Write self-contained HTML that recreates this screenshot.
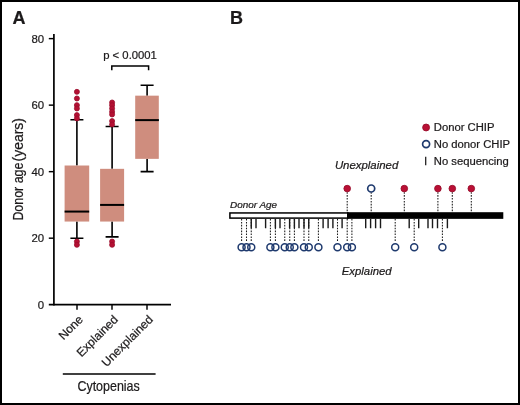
<!DOCTYPE html><html><head><meta charset="utf-8"><title>Figure</title>
<style>html,body{margin:0;padding:0;background:#fff}body{width:520px;height:405px;overflow:hidden}svg{display:block}text{font-family:"Liberation Sans",Arial,Helvetica,sans-serif;fill:#1c1a1b;stroke:#1c1a1b;stroke-width:.22px}</style></head><body>
<svg width="520" height="405" viewBox="0 0 520 405">
<rect x="0" y="0" width="520" height="405" fill="#fff"/>
<rect x="1" y="1" width="518" height="403" fill="none" stroke="#000" stroke-width="2"/>
<text x="12.5" y="23.5" font-size="18" font-weight="bold">A</text>
<text x="230" y="23.5" font-size="18" font-weight="bold">B</text>
<g stroke="#000" stroke-width="1.7" fill="none">
<path d="M53.9 34V305.55"/>
<path d="M48.8 304.70H171"/>
</g><g stroke="#000" stroke-width="1.45" fill="none">
<path d="M48.8 238.18H54"/>
<path d="M48.8 171.66H54"/>
<path d="M48.8 105.14H54"/>
<path d="M48.8 38.62H54"/>
<path d="M77.0 304.70V309.8"/>
<path d="M112.0 304.70V309.8"/>
<path d="M147.0 304.70V309.8"/>
</g>
<text x="44.1" y="308.70" font-size="11.4" text-anchor="end">0</text>
<text x="44.1" y="242.18" font-size="11.4" text-anchor="end">20</text>
<text x="44.1" y="175.66" font-size="11.4" text-anchor="end">40</text>
<text x="44.1" y="109.14" font-size="11.4" text-anchor="end">60</text>
<text x="44.1" y="42.62" font-size="11.4" text-anchor="end">80</text>
<text transform="translate(22.9 220.6) rotate(-90)" font-size="15" stroke="#1c1a1b" stroke-width="0.3"><tspan x="0" textLength="61.4" lengthAdjust="spacingAndGlyphs">Donor age </tspan><tspan x="59.2" textLength="43.4" lengthAdjust="spacingAndGlyphs">(years)</tspan></text>
<g>
<path d="M76.9 119.77V165.51M76.9 221.55V238.18" stroke="#000" stroke-width="1.6"/>
<path d="M70.4 119.77H83.4M70.4 238.18H83.4" stroke="#000" stroke-width="1.6"/>
<rect x="64.6" y="165.51" width="24.6" height="56.04" fill="#CF8D7E"/>
<path d="M64.6 211.57H89.2" stroke="#000" stroke-width="2"/>
<circle cx="76.9" cy="91.84" r="2.5" fill="#B41033" stroke="#9A0D2B" stroke-width="0.8"/>
<circle cx="76.9" cy="98.49" r="2.5" fill="#B41033" stroke="#9A0D2B" stroke-width="0.8"/>
<circle cx="76.9" cy="105.14" r="2.5" fill="#B41033" stroke="#9A0D2B" stroke-width="0.8"/>
<circle cx="76.9" cy="108.47" r="2.5" fill="#B41033" stroke="#9A0D2B" stroke-width="0.8"/>
<circle cx="76.9" cy="115.12" r="2.5" fill="#B41033" stroke="#9A0D2B" stroke-width="0.8"/>
<circle cx="76.9" cy="118.44" r="2.5" fill="#B41033" stroke="#9A0D2B" stroke-width="0.8"/>
<circle cx="76.9" cy="241.51" r="2.5" fill="#B41033" stroke="#9A0D2B" stroke-width="0.8"/>
<circle cx="76.9" cy="244.83" r="2.5" fill="#B41033" stroke="#9A0D2B" stroke-width="0.8"/>
</g>
<g>
<path d="M112.1 126.43V168.83M112.1 221.55V236.85" stroke="#000" stroke-width="1.6"/>
<path d="M105.6 126.43H118.6M105.6 236.85H118.6" stroke="#000" stroke-width="1.6"/>
<rect x="100.1" y="168.83" width="24.0" height="52.72" fill="#CF8D7E"/>
<path d="M100.1 204.92H124.1" stroke="#000" stroke-width="2"/>
<circle cx="112.1" cy="102.48" r="2.5" fill="#B41033" stroke="#9A0D2B" stroke-width="0.8"/>
<circle cx="112.1" cy="105.14" r="2.5" fill="#B41033" stroke="#9A0D2B" stroke-width="0.8"/>
<circle cx="112.1" cy="108.47" r="2.5" fill="#B41033" stroke="#9A0D2B" stroke-width="0.8"/>
<circle cx="112.1" cy="111.79" r="2.5" fill="#B41033" stroke="#9A0D2B" stroke-width="0.8"/>
<circle cx="112.1" cy="114.45" r="2.5" fill="#B41033" stroke="#9A0D2B" stroke-width="0.8"/>
<circle cx="112.1" cy="121.10" r="2.5" fill="#B41033" stroke="#9A0D2B" stroke-width="0.8"/>
<circle cx="112.1" cy="124.43" r="2.5" fill="#B41033" stroke="#9A0D2B" stroke-width="0.8"/>
<circle cx="112.1" cy="241.51" r="2.5" fill="#B41033" stroke="#9A0D2B" stroke-width="0.8"/>
<circle cx="112.1" cy="244.83" r="2.5" fill="#B41033" stroke="#9A0D2B" stroke-width="0.8"/>
</g>
<g>
<path d="M147.1 85.18V95.66M147.1 158.85V171.66" stroke="#000" stroke-width="1.6"/>
<path d="M140.6 85.18H153.6M140.6 171.66H153.6" stroke="#000" stroke-width="1.6"/>
<rect x="135.2" y="95.66" width="23.6" height="63.19" fill="#CF8D7E"/>
<path d="M135.2 120.11H158.9" stroke="#000" stroke-width="2"/>
</g>
<path d="M111.8 70.3V66H148.6V70.3" fill="none" stroke="#000" stroke-width="1.5"/>
<text x="103.2" y="58.8" font-size="11.3">p &lt; 0.0001</text>
<text transform="translate(83.7 320.2) rotate(-45)" font-size="12" text-anchor="end">None</text>
<text transform="translate(118.7 320.2) rotate(-45)" font-size="12" text-anchor="end">Explained</text>
<text transform="translate(153.7 320.2) rotate(-45)" font-size="12" text-anchor="end">Unexplained</text>
<path d="M62.8 373.9H155.6" stroke="#000" stroke-width="1.5"/>
<text x="77.4" y="391.2" font-size="15" textLength="62.4" lengthAdjust="spacingAndGlyphs" stroke="#1c1a1b" stroke-width="0.3">Cytopenias</text>
<circle cx="426.1" cy="127.5" r="3.45" fill="#BA1035" stroke="#980D2B" stroke-width="0.9"/>
<circle cx="426.1" cy="144.1" r="3.5" fill="#fff" stroke="#1F3A6E" stroke-width="1.7"/>
<path d="M425.7 156.8V165.3" stroke="#1c1a1b" stroke-width="1.25"/>
<text x="433.8" y="131.2" font-size="11.25">Donor CHIP</text>
<text x="433.8" y="147.7" font-size="11.25">No donor CHIP</text>
<text x="433.8" y="164.6" font-size="11.25">No sequencing</text>
<text x="334.9" y="169" font-size="11.4" font-style="italic">Unexplained</text>
<text x="341.8" y="274.5" font-size="11.35" font-style="italic">Explained</text>
<text x="230" y="208.1" font-size="9.95" font-style="italic">Donor Age</text>
<rect x="229.9" y="212.95" width="118" height="5.15" fill="#fff" stroke="#000" stroke-width="1.5"/>
<rect x="347" y="212.2" width="156.3" height="6.65" fill="#000"/>
<path d="M251.25 219V228.2M256.00 219V228.2M265.60 219V228.2M275.40 219V228.2M280.00 219V228.2M289.60 219V228.2M294.40 219V228.2M299.00 219V228.2M304.00 219V228.2M308.75 219V228.2M323.10 219V228.2M328.10 219V228.2M332.90 219V228.2M342.10 219V228.2M365.70 219V228.2M370.60 219V228.2M375.60 219V228.2M380.50 219V228.2M409.20 219V228.2M418.70 219V228.2M428.00 219V228.2M432.50 219V228.2M437.50 219V228.2M447.40 219V228.2" stroke="#1a1a1a" stroke-width="1.4" fill="none"/>
<path d="M241.60 219V241.6M246.50 219V241.6M251.25 219V241.6M270.40 219V241.6M275.40 219V241.6M284.75 219V241.6M289.75 219V241.6M294.40 219V241.6M304.00 219V241.6M308.75 219V241.6M318.40 219V241.6M337.50 219V241.6M347.20 219V241.6M351.90 219V241.6M395.20 219V241.6M414.20 219V241.6M442.40 219V241.6" stroke="#1a1a1a" stroke-width="1.05" stroke-dasharray="1.6 1.3" fill="none"/>
<path d="M347.20 192.2V212.3M371.20 192.2V212.3M404.30 192.2V212.3M437.90 192.2V212.3M452.30 192.2V212.3M471.30 192.2V212.3" stroke="#1a1a1a" stroke-width="1.05" stroke-dasharray="1.6 1.3" fill="none"/>
<circle cx="241.60" cy="247.3" r="3.5" fill="none" stroke="#1F3A6E" stroke-width="1.5"/>
<circle cx="246.50" cy="247.3" r="3.5" fill="none" stroke="#1F3A6E" stroke-width="1.5"/>
<circle cx="251.25" cy="247.3" r="3.5" fill="none" stroke="#1F3A6E" stroke-width="1.5"/>
<circle cx="270.40" cy="247.3" r="3.5" fill="none" stroke="#1F3A6E" stroke-width="1.5"/>
<circle cx="275.40" cy="247.3" r="3.5" fill="none" stroke="#1F3A6E" stroke-width="1.5"/>
<circle cx="284.75" cy="247.3" r="3.5" fill="none" stroke="#1F3A6E" stroke-width="1.5"/>
<circle cx="289.75" cy="247.3" r="3.5" fill="none" stroke="#1F3A6E" stroke-width="1.5"/>
<circle cx="294.40" cy="247.3" r="3.5" fill="none" stroke="#1F3A6E" stroke-width="1.5"/>
<circle cx="304.00" cy="247.3" r="3.5" fill="none" stroke="#1F3A6E" stroke-width="1.5"/>
<circle cx="308.75" cy="247.3" r="3.5" fill="none" stroke="#1F3A6E" stroke-width="1.5"/>
<circle cx="318.40" cy="247.3" r="3.5" fill="none" stroke="#1F3A6E" stroke-width="1.5"/>
<circle cx="337.50" cy="247.3" r="3.5" fill="none" stroke="#1F3A6E" stroke-width="1.5"/>
<circle cx="347.20" cy="247.3" r="3.5" fill="none" stroke="#1F3A6E" stroke-width="1.5"/>
<circle cx="351.90" cy="247.3" r="3.5" fill="none" stroke="#1F3A6E" stroke-width="1.5"/>
<circle cx="395.20" cy="247.3" r="3.5" fill="none" stroke="#1F3A6E" stroke-width="1.5"/>
<circle cx="414.20" cy="247.3" r="3.5" fill="none" stroke="#1F3A6E" stroke-width="1.5"/>
<circle cx="442.40" cy="247.3" r="3.5" fill="none" stroke="#1F3A6E" stroke-width="1.5"/>
<circle cx="347.20" cy="188.6" r="3.3" fill="#BA1035" stroke="#980D2B" stroke-width="0.9"/>
<circle cx="371.20" cy="188.5" r="3.5" fill="#fff" stroke="#1F3A6E" stroke-width="1.7"/>
<circle cx="404.30" cy="188.6" r="3.3" fill="#BA1035" stroke="#980D2B" stroke-width="0.9"/>
<circle cx="437.90" cy="188.6" r="3.3" fill="#BA1035" stroke="#980D2B" stroke-width="0.9"/>
<circle cx="452.30" cy="188.6" r="3.3" fill="#BA1035" stroke="#980D2B" stroke-width="0.9"/>
<circle cx="471.30" cy="188.6" r="3.3" fill="#BA1035" stroke="#980D2B" stroke-width="0.9"/>
</svg></body></html>
